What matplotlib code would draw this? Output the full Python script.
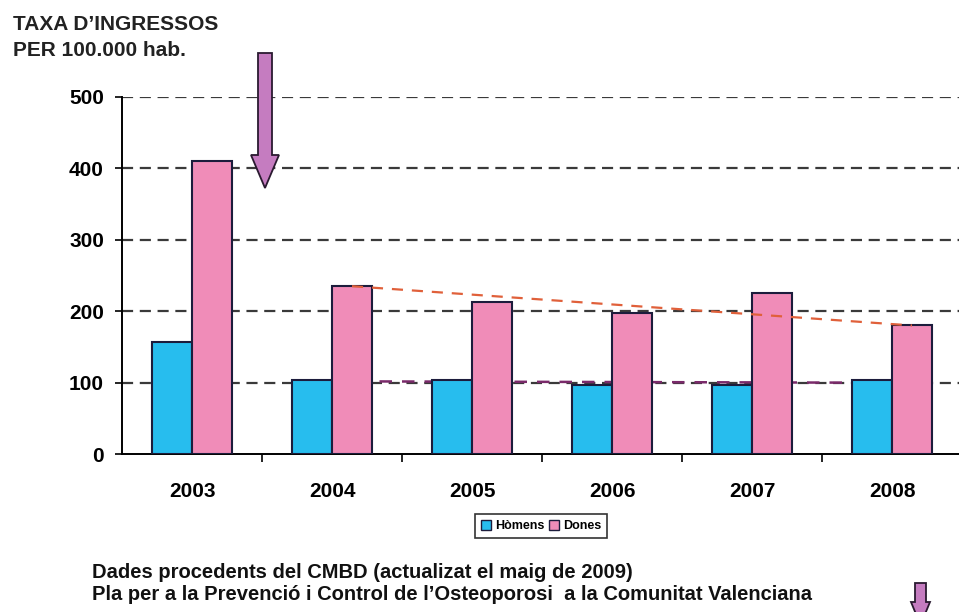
import numpy as np
import matplotlib
matplotlib.use('Agg')
import matplotlib.pyplot as plt
from matplotlib.patches import Polygon, Patch

plt.rcParams['font.family'] = ['Liberation Sans', 'DejaVu Sans']
plt.rcParams['font.weight'] = 'bold'

# data
years = ['2003', '2004', '2005', '2006', '2007', '2008']
homens = [157, 103, 104, 96, 97, 104]
dones = [411, 235, 213, 198, 225, 180]
yticks = [0, 100, 200, 300, 400, 500]

blue = '#27bdee'
pink = '#f08cb8'
edge = '#1c1c3c'
W, H = 959, 612

fig = plt.figure(figsize=(W / 100, H / 100), dpi=100)
ax = fig.add_axes([122 / W, 1 - 454 / H, 1 - 122 / W, (454 - 97) / H])

x = np.arange(len(years))
bw = 40 / 140
ax.bar(x - bw / 2, homens, bw, color=blue, edgecolor=edge, linewidth=1.5, zorder=3)
ax.bar(x + bw / 2, dones, bw, color=pink, edgecolor=edge, linewidth=1.5, zorder=3)

# trend lines 2004-2008
xt = x[1:]
ax.plot([xt[0] + bw / 2, xt[-1] + bw / 2], [dones[1], dones[-1]], ls=(0, (5, 4)),
        color='#e0603a', lw=1.6, zorder=4)
p = np.polyfit(xt, homens[1:], 1)
ends = [xt[0] - bw / 2, xt[-1] + bw / 2]
ax.plot(ends, np.polyval(p, ends), ls=(0, (5, 4)), color='#7a2a6a', lw=1.8, zorder=2)

ax.set_ylim(0, 500)
ax.set_xlim(-0.5, -0.5 + (W - 122) / 140)
ax.set_yticks(yticks)
for t in yticks[1:]:
    ax.axhline(t, color='#3a3a3a', lw=1.6, ls=(0, (5, 3)), zorder=1)
ax.set_xticks(x[:-1] + 0.5)
ax.set_xticklabels([])
ax.set_xticks(x, minor=True)
ax.set_xticklabels(years, minor=True)
ax.tick_params(axis='x', which='major', length=6, width=1.2, direction='out')
ax.tick_params(axis='x', which='minor', length=0, pad=20, labelsize=15)
ax.tick_params(axis='y', length=5, width=1.2, pad=8, labelsize=15)
for s in ['top', 'right']:
    ax.spines[s].set_visible(False)
for s in ['left', 'bottom']:
    ax.spines[s].set_linewidth(1.4)

handles = [Patch(facecolor=blue, edgecolor=edge), Patch(facecolor=pink, edgecolor=edge)]
leg = fig.legend(handles, ['Hòmens', 'Dones'], loc='center', bbox_to_anchor=(541 / W, 1 - 526 / H),
                 ncol=2, fontsize=9, frameon=True, fancybox=False, handlelength=0.8,
                 handleheight=0.8, handletextpad=0.3, columnspacing=0.4, borderpad=0.45)
leg.get_frame().set_edgecolor('black')
leg.get_frame().set_linewidth(1.2)

fig.text(13 / W, 1 - 25 / H, 'TAXA D\u2019INGRESSOS', fontsize=15, va='center', color='#222222')
fig.text(13 / W, 1 - 50 / H, 'PER 100.000 hab.', fontsize=15, va='center', color='#222222')
fig.text(92 / W, 1 - 573 / H, 'Dades procedents del CMBD (actualizat el maig de 2009)',
         fontsize=14.5, va='center', color='#111111')
fig.text(92 / W, 1 - 594 / H, 'Pla per a la Prevenció i Control de l\u2019Osteoporosi  a la Comunitat Valenciana',
         fontsize=14.5, va='center', color='#111111')


def arrow(x0, x1, hx0, hx1, ytop, yhead, ytip):
    pts = [(x0, ytop), (x1, ytop), (x1, yhead), (hx1, yhead), ((hx0 + hx1) / 2, ytip),
           (hx0, yhead), (x0, yhead)]
    pts = [(a / W, 1 - b / H) for a, b in pts]
    fig.add_artist(Polygon(pts, closed=True, transform=fig.transFigure,
                           facecolor='#c57cc0', edgecolor='#2a1a30', linewidth=1.3))


arrow(258, 272, 251, 279, 53, 155, 188)
arrow(915, 926, 911, 930, 583, 602, 625)

fig.savefig('out.png', dpi=100)
